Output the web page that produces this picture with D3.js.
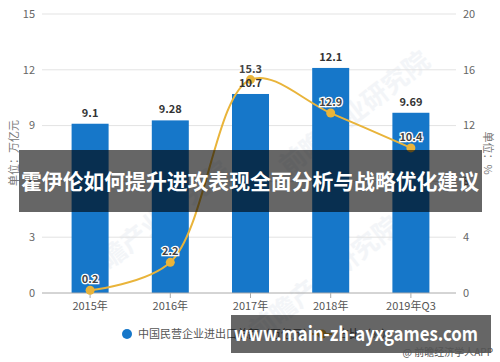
<!DOCTYPE html>
<html>
<head>
<meta charset="utf-8">
<script src="https://cdn.jsdelivr.net/npm/d3@7"></script>
<style>
  body { margin: 0; background: #fff; }
  svg { display: block; font-family: "Noto Sans CJK SC", "Noto Sans", sans-serif; }
</style>
</head>
<body>
<div id="chart"></div>
<script>
// data
var years = ['2015年', '2016年', '2017年', '2018年', '2019年Q3'];
var totals = [9.1, 9.28, 10.7, 12.1, 9.69];     // 万亿元, left axis
var shares = [0.2, 2.2, 15.3, 12.9, 10.4];      // %, right axis
var leftTicks = [0, 3, 6, 9, 12, 15];
var rightTicks = [0, 4, 8, 12, 16, 20];

var width = 500, height = 362;
var svg = d3.select('#chart').append('svg')
    .attr('width', width)
    .attr('height', height);

var x = d3.scalePoint().domain(years).range([50, 451]).padding(0.5);
var yL = d3.scaleLinear().domain([0, 15]).range([293, 14]);
var yR = d3.scaleLinear().domain([0, 20]).range([293, 14]);
var barW = 37;

// faint watermark
[[160, 230], [360, 120], [330, 285]].forEach(function (p) {
    svg.append('text')
        .attr('transform', 'translate(' + p[0] + ',' + p[1] + ') rotate(-38)')
        .attr('text-anchor', 'middle')
        .attr('font-size', 26)
        .attr('font-weight', 'bold')
        .attr('fill', '#e8edf2')
        .attr('opacity', 0.5)
        .text('前瞻产业研究院');
});

// grid lines
svg.selectAll('.grid').data(leftTicks.slice(1)).enter().append('line')
    .attr('x1', 42).attr('x2', 456)
    .attr('y1', function (d) { return yL(d); })
    .attr('y2', function (d) { return yL(d); })
    .attr('stroke', '#e3e3e3');

// left tick labels
svg.selectAll('.lt').data(leftTicks).enter().append('text')
    .attr('x', 35).attr('y', function (d) { return yL(d); })
    .attr('dy', '0.35em').attr('text-anchor', 'end')
    .attr('font-size', 11).attr('fill', '#666')
    .text(function (d) { return d; });

// right tick labels
svg.selectAll('.rt').data(rightTicks).enter().append('text')
    .attr('x', 463).attr('y', function (d) { return yR(d); })
    .attr('dy', '0.35em').attr('text-anchor', 'start')
    .attr('font-size', 11).attr('fill', '#666')
    .text(function (d) { return d; });

// axis titles
svg.append('text')
    .attr('transform', 'translate(18,153) rotate(-90)')
    .attr('text-anchor', 'middle').attr('font-size', 11).attr('fill', '#777')
    .text('单位：万亿元');
svg.append('text')
    .attr('transform', 'translate(484,153) rotate(90)')
    .attr('text-anchor', 'middle').attr('font-size', 11).attr('fill', '#777')
    .text('单位：%');

// bars
svg.selectAll('.bar').data(totals).enter().append('rect')
    .attr('x', function (d, i) { return x(years[i]) - barW / 2; })
    .attr('y', function (d) { return yL(d); })
    .attr('width', barW)
    .attr('height', function (d) { return yL(0) - yL(d); })
    .attr('fill', '#1677c9');

// x axis
svg.append('line')
    .attr('x1', 42).attr('x2', 456).attr('y1', 293).attr('y2', 293)
    .attr('stroke', '#aaa');
svg.selectAll('.xt').data(years).enter().append('line')
    .attr('x1', function (d) { return x(d); }).attr('x2', function (d) { return x(d); })
    .attr('y1', 293).attr('y2', 298)
    .attr('stroke', '#aaa');
svg.selectAll('.xl').data(years).enter().append('text')
    .attr('x', function (d) { return x(d); }).attr('y', 306)
    .attr('dy', '0.35em').attr('text-anchor', 'middle')
    .attr('font-size', 11).attr('fill', '#555')
    .text(function (d) { return d; });

// share line
var line = d3.line()
    .x(function (d, i) { return x(years[i]); })
    .y(function (d) { return yR(d); })
    .curve(d3.curveCatmullRom.alpha(0.5));
svg.append('path').datum(shares)
    .attr('d', line)
    .attr('fill', 'none')
    .attr('stroke', '#e9b43a')
    .attr('stroke-width', 2);
svg.selectAll('.pt').data(shares).enter().append('circle')
    .attr('cx', function (d, i) { return x(years[i]); })
    .attr('cy', function (d) { return yR(d); })
    .attr('r', 4.5)
    .attr('fill', '#e9b43a');

// bar labels
svg.selectAll('.bl').data(totals).enter().append('text')
    .attr('x', function (d, i) { return x(years[i]); })
    .attr('y', function (d) { return yL(d) - 7; })
    .attr('text-anchor', 'middle')
    .attr('font-size', 11).attr('font-weight', 'bold').attr('fill', '#333')
    .text(function (d) { return d; });

svg.selectAll('.pl').data(shares).enter().append('text')
    .attr('x', function (d, i) { return x(years[i]); })
    .attr('y', function (d) { return yR(d) - 7; })
    .attr('text-anchor', 'middle')
    .attr('font-size', 11).attr('font-weight', 'bold').attr('fill', '#444')
    .attr('stroke', '#fff').attr('stroke-width', 2.5)
    .attr('paint-order', 'stroke')
    .text(function (d) { return d; });

// legend
svg.append('circle').attr('cx', 127).attr('cy', 334).attr('r', 5).attr('fill', '#1677c9');
svg.append('text').attr('x', 138).attr('y', 334).attr('dy', '0.35em')
    .attr('font-size', 11).attr('fill', '#555')
    .text('中国民营企业进出口总额（万亿元）');
svg.append('line').attr('x1', 312).attr('x2', 332).attr('y1', 334).attr('y2', 334)
    .attr('stroke', '#e9b43a').attr('stroke-width', 2);
svg.append('circle').attr('cx', 322).attr('cy', 334).attr('r', 4.5).attr('fill', '#e9b43a');
svg.append('text').attr('x', 338).attr('y', 334).attr('dy', '0.35em')
    .attr('font-size', 11).attr('fill', '#555')
    .text('占比（%）');

// title banner over the chart
svg.append('rect').attr('x', 19).attr('y', 150).attr('width', 463).attr('height', 62)
    .attr('fill', 'rgba(0,0,0,0.6)');
svg.append('text').attr('x', 250).attr('y', 182).attr('dy', '0.35em')
    .attr('text-anchor', 'middle')
    .attr('font-size', 21).attr('font-weight', 'bold').attr('fill', '#fff')
    .attr('textLength', 458).attr('lengthAdjust', 'spacingAndGlyphs')
    .text('霍伊伦如何提升进攻表现全面分析与战略优化建议');

// site banner
svg.append('rect').attr('x', 231).attr('y', 315).attr('width', 260).attr('height', 38)
    .attr('fill', 'rgba(0,0,0,0.6)');
svg.append('text').attr('x', 356).attr('y', 334).attr('dy', '0.35em')
    .attr('text-anchor', 'middle')
    .attr('font-size', 20).attr('font-weight', 'bold').attr('fill', '#fff')
    .attr('textLength', 244).attr('lengthAdjust', 'spacingAndGlyphs')
    .text('www.main-zh-ayxgames.com');

svg.append('text').attr('x', 493).attr('y', 352).attr('dy', '0.35em')
    .attr('text-anchor', 'end')
    .attr('font-size', 10).attr('fill', '#555')
    .text('@ 前瞻经济学人APP');
</script>
</body>
</html>
